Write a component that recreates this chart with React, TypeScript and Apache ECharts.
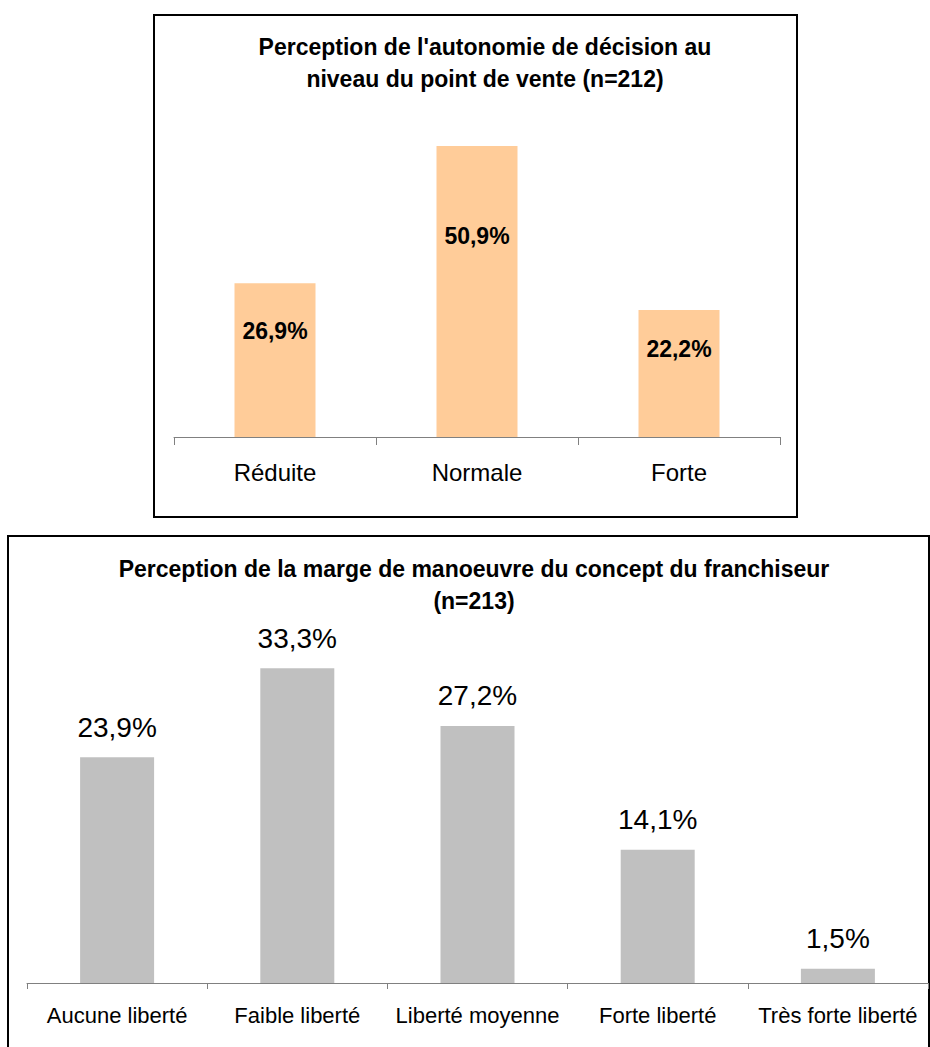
import React, { useEffect, useRef } from "react";
import * as echarts from "echarts";

const autonomyCategories = ["Réduite", "Normale", "Forte"];
const autonomyValues = [26.9, 50.9, 22.2];
const autonomyTitle = "Perception de l'autonomie de décision au\nniveau du point de vente (n=212)";

const margeCategories = ["Aucune liberté", "Faible liberté", "Liberté moyenne", "Forte liberté", "Très forte liberté"];
const margeValues = [23.9, 33.3, 27.2, 14.1, 1.5];
const margeTitle = "Perception de la marge de manoeuvre du concept du franchiseur\n(n=213)";

const FONT = "'Liberation Sans', Arial, sans-serif";
const fmt = (v: number) => v.toFixed(1).replace(".", ",") + "%";

export default function App() {
  const ref = useRef<HTMLDivElement>(null);
  useEffect(() => {
    if (!ref.current) return;
    const chart = echarts.init(ref.current, null, { renderer: "svg" });
    chart.setOption({
      animation: false,
      backgroundColor: "#fff",
      textStyle: { fontFamily: FONT },
      title: [
        {
          text: autonomyTitle,
          left: 480,
          top: 26,
          textAlign: "center",
          textStyle: { fontFamily: FONT, fontSize: 23, fontWeight: "bold", color: "#000", lineHeight: 32 },
        },
        {
          text: margeTitle,
          left: 469,
          top: 548,
          textAlign: "center",
          textStyle: { fontFamily: FONT, fontSize: 23, fontWeight: "bold", color: "#000", lineHeight: 32 },
        },
      ],
      graphic: [
        { type: "rect", shape: { x: 154, y: 15, width: 643, height: 502 }, style: { fill: "none", stroke: "#000", lineWidth: 2 }, silent: true, z: 0 },
        { type: "rect", shape: { x: 8, y: 536, width: 921, height: 530 }, style: { fill: "none", stroke: "#000", lineWidth: 2 }, silent: true, z: 0 },
      ],
      grid: [
        { left: 174, top: 94, width: 606, height: 343 },
        { left: 27, top: 605, width: 901, height: 378 },
      ],
      xAxis: [
        {
          type: "category",
          gridIndex: 0,
          data: autonomyCategories,
          axisLine: { show: true, lineStyle: { color: "#808080", width: 1 } },
          axisTick: { show: true, length: 8, alignWithLabel: false, lineStyle: { color: "#808080", width: 1 } },
          axisLabel: { fontFamily: FONT, fontSize: 24, color: "#000", margin: 23 },
        },
        {
          type: "category",
          gridIndex: 1,
          data: margeCategories,
          axisLine: { show: true, lineStyle: { color: "#808080", width: 1 } },
          axisTick: { show: true, length: 6, alignWithLabel: false, lineStyle: { color: "#808080", width: 1 } },
          axisLabel: { fontFamily: FONT, fontSize: 22, color: "#000", margin: 21, interval: 0 },
        },
      ],
      yAxis: [
        { type: "value", gridIndex: 0, min: 0, max: 60, show: false, splitLine: { show: false } },
        { type: "value", gridIndex: 1, min: 0, max: 40, show: false, splitLine: { show: false } },
      ],
      series: [
        {
          type: "bar",
          xAxisIndex: 0,
          yAxisIndex: 0,
          data: autonomyValues,
          barWidth: 81,
          itemStyle: { color: "#FFCC99" },
          label: {
            show: true,
            position: ["50%", "31%"],
            align: "center",
            verticalAlign: "middle",
            fontFamily: FONT,
            fontSize: 23,
            fontWeight: "bold",
            color: "#000",
            formatter: (p: any) => fmt(p.value),
          },
        },
        {
          type: "bar",
          xAxisIndex: 1,
          yAxisIndex: 1,
          data: margeValues,
          barWidth: 74,
          itemStyle: { color: "#C0C0C0" },
          label: {
            show: true,
            position: "top",
            distance: 16,
            fontFamily: FONT,
            fontSize: 28,
            color: "#000",
            formatter: (p: any) => fmt(p.value),
          },
        },
      ],
    });
    return () => chart.dispose();
  }, []);
  return (
    <div
      ref={ref}
      style={{ position: "absolute", left: 0, top: 0, width: 930, height: 1047 }}
    />
  );
}
